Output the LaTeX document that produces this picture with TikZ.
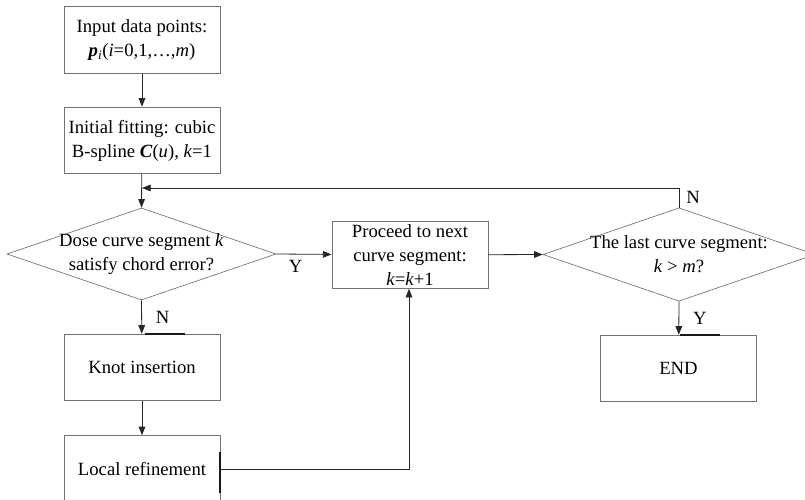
\documentclass[tikz,border=0pt]{standalone}
\usepackage{fontspec}
\setmainfont{Liberation Serif}
\usetikzlibrary{arrows.meta,shapes.geometric}
\begin{document}
\begin{tikzpicture}[x=0.75pt,y=-0.75pt,
  font=\fontsize{14pt}{18pt}\selectfont,
  stepbox/.style={draw=black!55,line width=0.6pt,rectangle,minimum width=117pt,minimum height=50pt,align=center,inner sep=0pt},
  decision/.style={draw=black!60,line width=0.45pt,diamond,inner sep=0pt},
  flow/.style={draw=black!85,line width=0.6pt,-{Triangle[length=6.5pt,width=5pt]}},
  link/.style={draw=black!85,line width=0.6pt},
  heavyedge/.style={line width=1.6pt,black!90}
]
\useasboundingbox (0,0) rectangle (805,499);

% process boxes
\node[stepbox] (input) at (142,40) {Input data points:\\\textbf{\textit{p}}\textsubscript{\textit{i}}(\textit{i}=0,1,…,\textit{m})};
\node[stepbox] (init) at (142,140.5) {Initial fitting: cubic\\B-spline \textbf{\textit{C}}(\textit{u}), \textit{k}=1};
\node[stepbox] (next) at (410,255) {Proceed to next\\curve segment:\\\textit{k}=\textit{k}+1};
\node[stepbox] (knot) at (142,367.5) {Knot insertion};
\node[stepbox] (refine) at (142,469) {Local refinement};
\node[stepbox] (end) at (678.5,368.5) {END};

% decisions
\node[decision,minimum width=201.75pt,minimum height=69pt] (chord) at (141.5,254) {};
\node[align=center] (chordtext) at (chord.center) {Dose curve segment \textit{k}\\satisfy chord error?};
\node[decision,minimum width=204pt,minimum height=70pt] (last) at (679,254.5) {};
\node[align=center] (lasttext) at (last.center) {The last curve segment:\\\textit{k} > \textit{m}?};

% connectors
\draw[flow] (input) -- (init);
\draw[flow] (init) -- (chord.north);
\draw[flow] (chord.east) -- node[pos=0.35,below=1pt] (ylab1) {Y} (next);
\draw[flow] (next) -- (last.west);
\draw[flow] (chord.south) -- node[right=7pt] (nlab1) {N} (knot);
\draw[flow] (knot) -- (refine);
\coordinate (turn) at (409,469);
\draw[flow] (refine.east) -- (turn) -- (next.south -| turn);
\coordinate (backtop) at (679,188);
\coordinate (backin) at (142,188);
\draw[link] (last.north) -- (backtop);
\draw[flow] (backtop) -- (backin);
\node (nlab2) at (693,197) {N};
\draw[flow] (last.south) -- node[right=7pt] (ylab2) {Y} (end);

% heavy edge marks
\draw[heavyedge] (145,334) -- (185,334);
\draw[heavyedge] (680,335) -- (720,335);
\draw[heavyedge] (220,452) -- (220,493);
\end{tikzpicture}
\end{document}
